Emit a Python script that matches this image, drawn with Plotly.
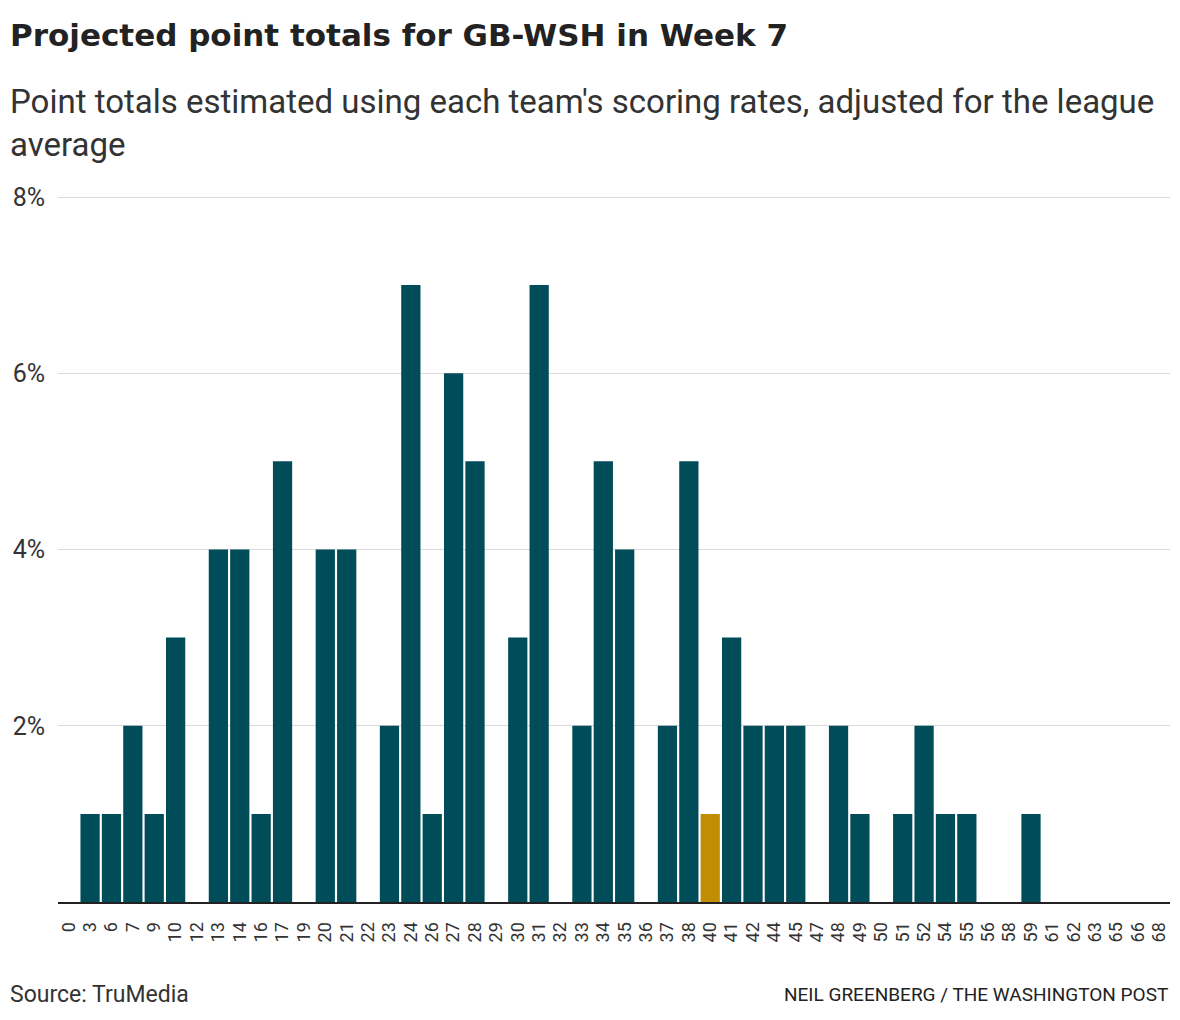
import plotly.graph_objects as go

points = [0, 3, 6, 7, 9, 10, 12, 13, 14, 16, 17, 19, 20, 21, 22, 23, 24, 26, 27, 28,
          29, 30, 31, 32, 33, 34, 35, 36, 37, 38, 40, 41, 42, 44, 45, 47, 48, 49, 50, 51,
          52, 54, 55, 56, 58, 59, 61, 62, 63, 65, 66, 68]
pct = [0, 1, 1, 2, 1, 3, 0, 4, 4, 1, 5, 0, 4, 4, 0, 2, 7, 1, 6, 5,
       0, 3, 7, 0, 2, 5, 4, 0, 2, 5, 1, 3, 2, 2, 2, 0, 2, 1, 0, 1,
       2, 1, 1, 0, 0, 1, 0, 0, 0, 0, 0, 0]
highlight = 40
y_ticks = [2, 4, 6, 8]
y_tick_labels = ["2%", "4%", "6%", "8%"]

TEAL = "#004c58"
GOLD = "#c18e03"
colors = [GOLD if p == highlight else TEAL for p in points]
x_labels = [str(p) for p in points]

W, H = 1180, 1020
ML, MR, MT, MB = 58, 10, 192, 118
Y_TOP = 8 + 5 / (705 / 8)

fig = go.Figure(go.Bar(
    x=x_labels, y=pct,
    marker=dict(color=colors, line=dict(width=0)),
    hoverinfo="x+y",
))

fig.update_layout(
    width=W, height=H,
    margin=dict(l=ML, r=MR, t=MT, b=MB),
    paper_bgcolor="white", plot_bgcolor="white",
    bargap=0.1,
    showlegend=False,
    font=dict(family="Roboto, Arial, sans-serif", color="#333333"),
    xaxis=dict(
        type="category", tickangle=-90, showgrid=False,
        tickmode="array", tickvals=x_labels, ticktext=x_labels,
        tickfont=dict(size=18, color="#333333"),
        showline=True, linecolor="#222222", linewidth=2,
        ticks="", ticklabelstandoff=11,
    ),
    yaxis=dict(
        range=[0, Y_TOP], tickvals=y_ticks, ticktext=y_tick_labels,
        showgrid=True, gridcolor="#d9d9d9", gridwidth=1,
        zeroline=False, ticks="",
        tickfont=dict(size=25, color="#333333"),
        ticklabelstandoff=12,
    ),
)

pw = W - ML - MR
ph = H - MT - MB
def px(x):
    return (x - ML) / pw
def py(y):
    return (H - MB - y) / ph

fig.add_annotation(text="<b>Projected point totals for GB-WSH in Week 7</b>",
                   x=px(8), y=py(35), xref="paper", yref="paper", xanchor="left", yanchor="middle",
                   showarrow=False,
                   font=dict(size=31, color="#222222", family="DejaVu Sans, Arial, sans-serif"))
fig.add_annotation(text="Point totals estimated using each team's scoring rates, adjusted for the league<br>average",
                   x=px(8), y=py(80), xref="paper", yref="paper", xanchor="left", yanchor="top",
                   align="left", showarrow=False,
                   font=dict(size=33, color="#333333", family="Roboto, Arial, sans-serif"))
fig.add_annotation(text="Source: TruMedia",
                   x=px(8), y=py(994), xref="paper", yref="paper", xanchor="left", yanchor="middle",
                   showarrow=False, font=dict(size=23, color="#333333"))
fig.add_annotation(text="NEIL GREENBERG / THE WASHINGTON POST",
                   x=px(1170), y=py(994), xref="paper", yref="paper", xanchor="right", yanchor="middle",
                   showarrow=False, font=dict(size=19, color="#222222"))

fig.write_html("out.html", config={"displayModeBar": False},
               post_script="document.body.style.margin='0';")
